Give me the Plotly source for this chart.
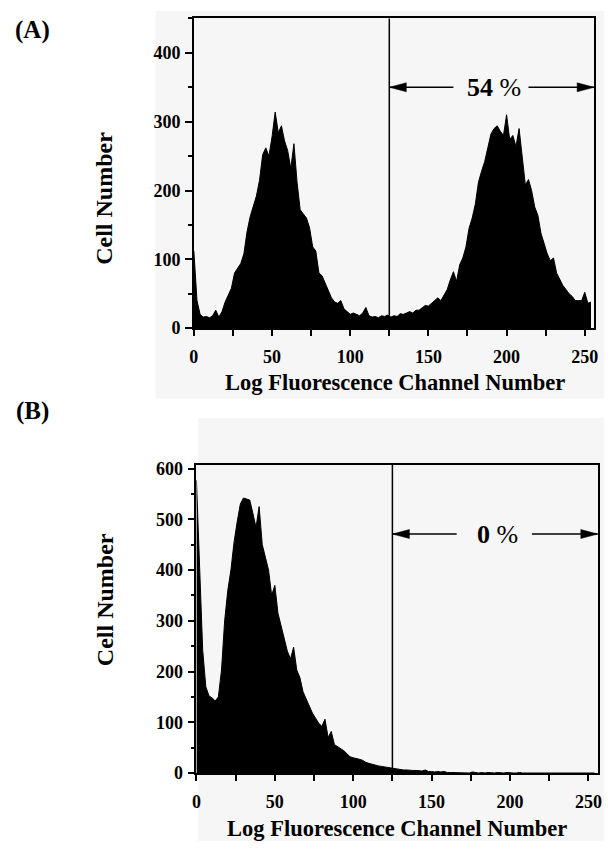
import plotly.graph_objects as go

# ---------------- data ----------------
channels = list(range(0, 256, 2))

counts_a = [
    112, 40, 20, 16, 17, 15, 18, 26, 16, 24,
    38, 48, 58, 80, 88, 94, 108, 140, 162, 178,
    192, 215, 252, 262, 250, 278, 314, 284, 294, 272,
    258, 232, 268, 212, 172, 166, 160, 146, 118, 112,
    80, 76, 66, 56, 44, 38, 36, 40, 28, 24,
    20, 22, 20, 18, 22, 30, 18, 16, 17, 15,
    18, 17, 19, 16, 18, 17, 21, 20, 22, 24,
    22, 26, 26, 30, 33, 32, 36, 40, 44, 40,
    48, 56, 70, 82, 68, 92, 102, 118, 145, 160,
    180, 212, 228, 242, 262, 282, 290, 294, 286, 280,
    310, 274, 280, 264, 290, 246, 208, 216, 200, 176,
    164, 138, 122, 108, 98, 102, 80, 70, 62, 56,
    50, 46, 40, 40, 40, 52, 36, 38,
]

counts_b = [
    577, 409, 242, 170, 152, 148, 142, 150, 203, 300,
    360, 400, 455, 495, 530, 542, 540, 538, 512, 484,
    525, 450, 425, 400, 350, 370, 315, 290, 268, 240,
    225, 248, 203, 188, 160, 145, 130, 118, 108, 98,
    92, 106, 70, 82, 56, 52, 48, 44, 38, 32,
    30, 29, 27, 25, 21, 19, 17, 16, 14, 13,
    12, 10, 10, 9, 8, 7, 6, 6, 5, 5,
    5, 4, 4, 6, 3, 3, 2, 3, 2, 3,
    1, 1, 1, 1, 0, 1, 1, 0, 2, 1,
    0, 1, 0, 1, 0, 0, 1, 0, 0, 1,
    0, 0, 0, 1, 0, 0, 0, 0, 1, 0,
    0, 0, 0, 0, 0, 1, 0, 0, 0, 0,
    0, 0, 0, 0, 0, 0, 0, 0,
]

gate_channel = 125
percent_a = "<b>54</b> %"
percent_b = "<b>0</b> %"
arrow_level_a = 350
arrow_level_b = 471
x_ticks = [0, 50, 100, 150, 200, 250]
y_ticks_a = [0, 100, 200, 300, 400]
y_ticks_b = [0, 100, 200, 300, 400, 500, 600]

W, H = 608, 851
SERIF = "Liberation Serif"

fig = go.Figure()

for cts, xa, ya in [(counts_a, "x", "y"), (counts_b, "x2", "y2")]:
    fig.add_trace(go.Scatter(
        x=channels, y=cts, xaxis=xa, yaxis=ya, mode="lines",
        fill="tozeroy", fillcolor="black",
        line=dict(color="black", width=1), showlegend=False,
        hoverinfo="x+y",
    ))

tickfont = dict(family=SERIF, size=18, color="black", weight="bold")

def xaxis(domain, anchor):
    return dict(
        domain=domain, anchor=anchor, range=[0, 256],
        showline=True, linecolor="black", linewidth=1.5, mirror=True,
        ticks="outside", ticklen=6, tickwidth=1.5, tickcolor="black",
        tickvals=x_ticks, tickfont=tickfont, ticklabelstandoff=6,
        minor=dict(dtick=25, ticks="outside", ticklen=6, tickwidth=1.5, tickcolor="black", showgrid=False),
        showgrid=False, zeroline=False, fixedrange=True,
    )

def yaxis(domain, anchor, rng, vals):
    return dict(
        domain=domain, anchor=anchor, range=rng,
        showline=True, linecolor="black", linewidth=1.5, mirror=True,
        ticks="outside", ticklen=7, tickwidth=1.5, tickcolor="black",
        tickvals=vals, tickfont=tickfont, ticklabelstandoff=1,
        minor=dict(dtick=50, ticks="outside", ticklen=4, tickwidth=1.5, tickcolor="black", showgrid=False),
        showgrid=False, zeroline=False, fixedrange=True,
    )

fig.update_layout(
    width=W, height=H, autosize=False,
    margin=dict(l=0, r=0, t=0, b=0),
    paper_bgcolor="white", plot_bgcolor="#f3f3f3",
    xaxis=xaxis([191.7 / W, 598 / W], "y"),
    yaxis=yaxis([1 - 328.3 / H, 1 - 12.7 / H], "x", [0, 450], y_ticks_a),
    xaxis2=xaxis([194.3 / W, 601.7 / W], "y2"),
    yaxis2=yaxis([1 - 781.7 / H, 1 - 467.3 / H], "x2", [0, 608], y_ticks_b),
)

shapes = []
# scanned-paper background tint
shapes.append(dict(type="rect", xref="paper", yref="paper", x0=153 / W, x1=1, y0=1 - 400 / H, y1=1 - 5 / H,
                   fillcolor="#f6f6f6", line=dict(width=0), layer="below"))
shapes.append(dict(type="rect", xref="paper", yref="paper", x0=196 / W, x1=1, y0=0, y1=1 - 420 / H,
                   fillcolor="#f6f6f6", line=dict(width=0), layer="below"))

annotations = []
for xr, yr, lvl, txt in [("x", "y", arrow_level_a, percent_a), ("x2", "y2", arrow_level_b, percent_b)]:
    # gate line
    shapes.append(dict(type="line", xref=xr, yref=yr + " domain", x0=gate_channel, x1=gate_channel,
                       y0=0, y1=1, line=dict(color="black", width=1.5)))
    # arrow shafts
    shapes.append(dict(type="line", xref=xr, yref=yr, x0=gate_channel, x1=166, y0=lvl, y1=lvl,
                       line=dict(color="black", width=1.5)))
    shapes.append(dict(type="line", xref=xr, yref=yr, x0=214, x1=256, y0=lvl, y1=lvl,
                       line=dict(color="black", width=1.5)))
    # arrow heads (pixel-sized triangles anchored at the ends)
    shapes.append(dict(type="path", xref=xr, yref=yr, xsizemode="pixel", ysizemode="pixel",
                       xanchor=gate_channel, yanchor=lvl, path="M0,0 L17,4.5 L17,-4.5 Z",
                       fillcolor="black", line=dict(color="black", width=0.5)))
    shapes.append(dict(type="path", xref=xr, yref=yr, xsizemode="pixel", ysizemode="pixel",
                       xanchor=256, yanchor=lvl, path="M0,0 L-17,4.5 L-17,-4.5 Z",
                       fillcolor="black", line=dict(color="black", width=0.5)))
    annotations.append(dict(xref=xr, yref=yr, x=192, y=lvl, text=txt, showarrow=False,
                            xanchor="center", yanchor="middle",
                            font=dict(family=SERIF, size=26, color="black")))

xtitlefont = dict(family=SERIF, size=22.5, color="black", weight="bold")
ytitlefont = dict(family=SERIF, size=24, color="black", weight="bold")
for lab, ly in [("(A)", 24), ("(B)", 413)]:
    annotations.append(dict(xref="paper", yref="paper", x=27.5 / W, y=1 - ly / H, text=lab,
                            xanchor="center", yanchor="middle", showarrow=False,
                            font=dict(family=SERIF, size=25, color="black", weight="bold")))
for cy in [196, 605]:
    annotations.append(dict(xref="paper", yref="paper", x=101 / W, y=1 - cy / H, text="Cell Number",
                            xanchor="center", yanchor="middle",
                            textangle=-90, showarrow=False, font=ytitlefont))
for cx, cy in [(396, 384), (398, 838)]:
    annotations.append(dict(xref="paper", yref="paper", x=cx / W, y=1 - cy / H,
                            xanchor="center", yanchor="middle",
                            text="Log Fluorescence Channel Number", showarrow=False, font=xtitlefont))

fig.update_layout(shapes=shapes, annotations=annotations)
fig.write_html(
    "out.html",
    config={"displayModeBar": False},
    post_script="document.body.style.margin='0';document.body.style.overflow='hidden';",
)
